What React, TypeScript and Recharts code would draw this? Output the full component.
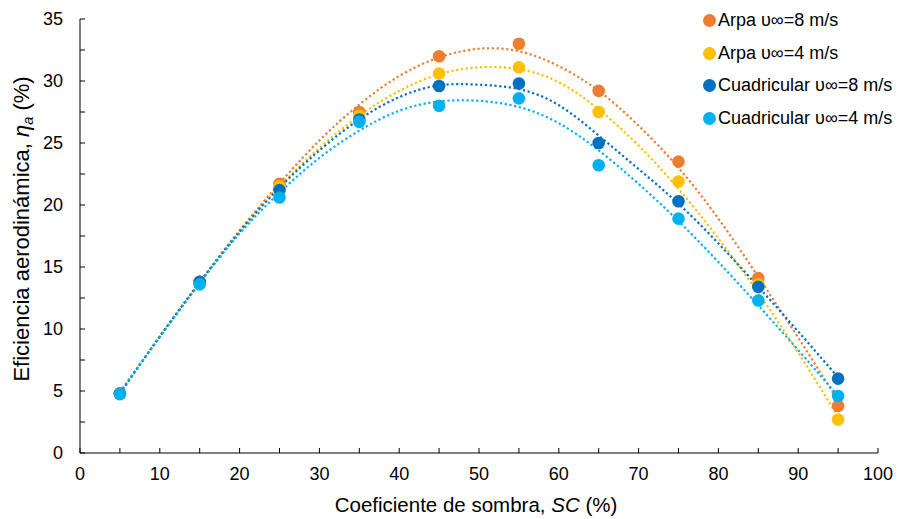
import { ComposedChart, Scatter, Line, XAxis, YAxis, Label, Legend } from "recharts";

const FONT = '"Liberation Sans", Arial, sans-serif';

// measured points (SC %, efficiency %)
const SC = [5, 15, 25, 35, 45, 55, 65, 75, 85, 95];
const ARPA_8 = [4.8, 13.8, 21.7, 27.5, 32.0, 33.0, 29.2, 23.5, 14.1, 3.8];
const ARPA_4 = [4.8, 13.7, 21.5, 27.2, 30.6, 31.1, 27.5, 21.9, 13.6, 2.7];
const CUAD_8 = [4.8, 13.8, 21.2, 26.9, 29.6, 29.8, 25.0, 20.3, 13.4, 6.0];
const CUAD_4 = [4.75, 13.6, 20.6, 26.7, 28.0, 28.6, 23.2, 18.9, 12.3, 4.6];

// dotted trendlines, every 5 %
const SC_FIT = [5, 10, 15, 20, 25, 30, 35, 40, 45, 50, 55, 60, 65, 70, 75, 80, 85, 90, 95];
const ARPA_8_FIT = [4.8, 9.4, 13.8, 17.95, 21.75, 25.2, 28.1, 30.4, 31.9, 32.6, 32.4, 31.2, 29.2, 26.4, 23.0, 18.9, 14.2, 9.3, 4.2];
const ARPA_4_FIT = [4.9, 9.4, 13.75, 17.85, 21.5, 24.6, 27.2, 29.2, 30.55, 31.1, 30.95, 29.9, 27.7, 24.8, 21.3, 17.3, 12.9, 8.1, 2.9];
const CUAD_8_FIT = [4.8, 9.4, 13.75, 17.85, 21.4, 24.4, 26.9, 28.7, 29.65, 29.7, 29.35, 28.05, 25.6, 22.9, 20.1, 16.9, 13.4, 9.8, 6.1];
const CUAD_4_FIT = [4.9, 9.35, 13.7, 17.7, 21.0, 23.8, 26.0, 27.6, 28.35, 28.4, 27.9, 26.6, 24.4, 21.7, 18.7, 15.4, 11.9, 8.3, 4.6];

const X_TICKS = [0, 5, 10, 15, 20, 25, 30, 35, 40, 45, 50, 55, 60, 65, 70, 75, 80, 85, 90, 95, 100];
const Y_TICKS = [0, 2.5, 5, 7.5, 10, 12.5, 15, 17.5, 20, 22.5, 25, 27.5, 30, 32.5, 35];

const toPts = (xs: number[], ys: number[]) => xs.map((x, i) => ({ x, y: ys[i] }));

const SERIES = [
  { name: "Arpa υ∞=8 m/s", color: "#ED7D31", points: ARPA_8, fit: ARPA_8_FIT },
  { name: "Arpa υ∞=4 m/s", color: "#FFC000", points: ARPA_4, fit: ARPA_4_FIT },
  { name: "Cuadricular υ∞=8 m/s", color: "#0070C0", points: CUAD_8, fit: CUAD_8_FIT },
  { name: "Cuadricular υ∞=4 m/s", color: "#00B0F0", points: CUAD_4, fit: CUAD_4_FIT },
];

function LegendBox() {
  return (
    <div style={{ fontFamily: FONT, fontSize: 18, color: "#000" }}>
      {SERIES.map((s) => (
        <div key={s.name} style={{ display: "flex", alignItems: "center", height: 32.7, whiteSpace: "nowrap" }}>
          <span
            style={{
              display: "inline-block",
              width: 13,
              height: 13,
              borderRadius: "50%",
              background: s.color,
              marginRight: 2,
            }}
          />
          <span>{s.name}</span>
        </div>
      ))}
    </div>
  );
}

const XTitle = (props: any) => {
  const { x, y, width } = props.viewBox;
  return (
    <text x={x + width / 2 - 3} y={y + 59} textAnchor="middle" fontFamily={FONT} fontSize={20.5} fill="#000">
      {"Coeficiente de sombra, "}
      <tspan fontStyle="italic">SC</tspan>
      {" (%)"}
    </text>
  );
};

const YTitle = (props: any) => {
  const { x, y, height } = props.viewBox;
  const cx = x + 29;
  const cy = y + height / 2 - 7;
  return (
    <text
      x={cx}
      y={cy}
      transform={`rotate(-90 ${cx} ${cy})`}
      textAnchor="middle"
      fontFamily={FONT}
      fontSize={22}
      fill="#000"
    >
      {"Eficiencia aerodinámica, "}
      <tspan fontStyle="italic">η</tspan>
      <tspan fontStyle="italic" fontSize={14.5} dy={4}>a</tspan>
      <tspan dy={-4}>{" (%)"}</tspan>
    </text>
  );
};

export default function App() {
  return (
    <div style={{ position: "absolute", left: 0, top: 0, width: 898, height: 519, background: "#fff" }}>
      <ComposedChart width={898} height={519} margin={{ top: 19, right: 20, bottom: 0, left: 0 }}>
        <XAxis
          type="number"
          dataKey="x"
          domain={[0, 100]}
          ticks={X_TICKS}
          interval={0}
          tickFormatter={(v: number) => (v % 10 === 0 ? String(v) : "")}
          tickSize={-5}
          tickMargin={19}
          height={66}
          axisLine={{ stroke: "#000" }}
          tickLine={{ stroke: "#000" }}
          tick={{ fill: "#000", fontSize: 18, fontFamily: FONT }}
        >
          <Label content={XTitle} />
        </XAxis>
        <YAxis
          type="number"
          dataKey="y"
          domain={[0, 35]}
          ticks={Y_TICKS}
          interval={0}
          tickFormatter={(v: number) => (v % 5 === 0 ? String(v) : "")}
          tickSize={-5}
          tickMargin={22}
          width={80}
          axisLine={{ stroke: "#000" }}
          tickLine={{ stroke: "#000" }}
          tick={{ fill: "#000", fontSize: 18, fontFamily: FONT }}
        >
          <Label content={YTitle} />
        </YAxis>
        <Legend
          layout="vertical"
          align="center"
          verticalAlign="middle"
          content={() => <LegendBox />}
          wrapperStyle={{ left: 703, top: 4, width: 195 }}
        />
        {SERIES.map((s) => (
          <Scatter
            key={s.name}
            name={s.name}
            data={toPts(SC, s.points)}
            fill={s.color}
            isAnimationActive={false}
            shape={(p: any) => <circle cx={p.cx} cy={p.cy} r={6.3} fill={s.color} />}
          />
        ))}
        {SERIES.map((s) => (
          <Line
            key={s.name + "-fit"}
            data={toPts(SC_FIT, s.fit)}
            dataKey="y"
            type="natural"
            stroke={s.color}
            strokeWidth={2.2}
            strokeDasharray="2.2 2.6"
            dot={false}
            activeDot={false}
            legendType="none"
            isAnimationActive={false}
          />
        ))}
      </ComposedChart>
    </div>
  );
}
